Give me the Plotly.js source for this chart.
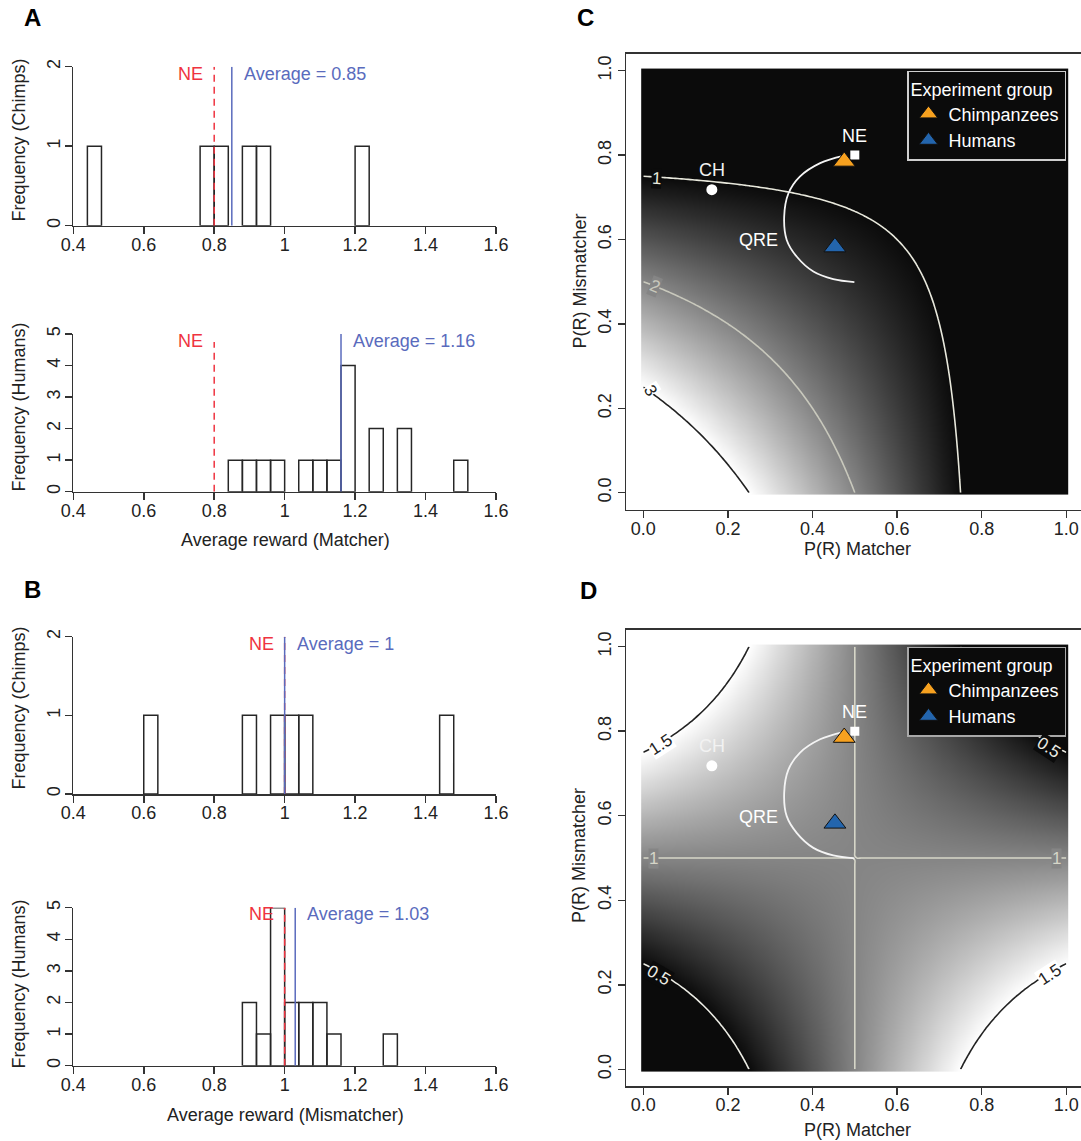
<!DOCTYPE html>
<html>
<head>
<meta charset="utf-8">
<script src="https://cdn.plot.ly/plotly-3.0.1.min.js"></script>
<style>
  html, body { margin: 0; padding: 0; background: #fff; }
  #chart { width: 1081px; height: 1141px; }
</style>
</head>
<body>
<div id="chart"></div>
<script>
// ---- Histograms of average reward per player (bin centres, bin width 0.04) ----
const binWidth = 0.04;
const matcherChimpBins = [0.46, 0.78, 0.82, 0.90, 0.94, 1.22];
const matcherChimpCounts = [1, 1, 1, 1, 1, 1];
const matcherHumanBins = [0.86, 0.90, 0.94, 0.98, 1.06, 1.10, 1.14, 1.18, 1.26, 1.34, 1.50];
const matcherHumanCounts = [1, 1, 1, 1, 1, 1, 1, 4, 2, 2, 1];
const mismatcherChimpBins = [0.62, 0.90, 0.98, 1.02, 1.06, 1.46];
const mismatcherChimpCounts = [1, 1, 1, 1, 1, 1];
const mismatcherHumanBins = [0.90, 0.94, 0.98, 1.02, 1.06, 1.10, 1.14, 1.30];
const mismatcherHumanCounts = [2, 1, 5, 2, 2, 2, 1, 1];

// group averages [chimps, humans] and the Nash-equilibrium reward
const avgMatcher = [0.85, 1.16];
const avgMismatcher = [1, 1.03];
const neRewardMatcher = 0.8;
const neRewardMismatcher = 1;

// ---- Payoff matrices: rows = Matcher (L, R), columns = Mismatcher (L, R) ----
const matcherPayoff = [[4, 0], [0, 1]];
const mismatcherPayoff = [[0, 2], [2, 0]];
const matcherLevels = [1, 2, 3];
const mismatcherLevels = [0.5, 1, 1.5];

// ---- Observed choice rates and model predictions ----
const groups = ['Chimpanzees', 'Humans'];
const groupColors = ['#f7a11f', '#2365ad'];
const groupPMatcher = [0.475, 0.453];
const groupPMismatcher = [0.785, 0.582];
const nePoint = [0.5, 0.8];
const chPoint = [0.162, 0.718];
const qreMatcher = [0.499, 0.449, 0.402, 0.363, 0.339, 0.333, 0.343, 0.370, 0.418, 0.473];
const qreMismatcher = [0.499, 0.506, 0.524, 0.559, 0.599, 0.654, 0.709, 0.749, 0.781, 0.798];

// ---- page geometry helpers (pixels -> paper) ----
const W = 1081, H = 1141;
const px = v => v / W;
const py = v => 1 - v / H;
const FONT = 'Liberation Sans, Arial, Helvetica, sans-serif';
const INK = '#222';
const NE_RED = '#ef3340';
const AVG_BLUE = '#5a6bbd';

const traces = [];
const shapes = [];
const annotations = [];
const layout = {
  width: W, height: H,
  margin: {l: 0, r: 0, t: 0, b: 0},
  paper_bgcolor: '#fff', plot_bgcolor: 'rgba(0,0,0,0)',
  font: {family: FONT, size: 18, color: INK},
  showlegend: true,
  bargap: 0
};

// text placed in page pixels, centred on (x, y)
function pageText(text, x, y, angle) {
  annotations.push({xref: 'paper', yref: 'paper', x: px(x), y: py(y), xanchor: 'center', yanchor: 'middle',
    text: text, textangle: angle || 0, showarrow: false, font: {size: 18, color: INK}});
}

const histPanels = [
  {bins: matcherChimpBins, counts: matcherChimpCounts, avg: avgMatcher[0], ne: neRewardMatcher,
   ymax: 2, top: 66.7, bottom: 225.7, neTop: 2, textY: 1.91, ylabel: 'Frequency (Chimps)', ylabY: 140},
  {bins: matcherHumanBins, counts: matcherHumanCounts, avg: avgMatcher[1], ne: neRewardMatcher,
   ymax: 5, top: 334, bottom: 491.7, neTop: 4.75, textY: 4.77, ylabel: 'Frequency (Humans)', ylabY: 407},
  {bins: mismatcherChimpBins, counts: mismatcherChimpCounts, avg: avgMismatcher[0], ne: neRewardMismatcher,
   ymax: 2, top: 636.7, bottom: 794, neTop: 2, textY: 1.91, ylabel: 'Frequency (Chimps)', ylabY: 708},
  {bins: mismatcherHumanBins, counts: mismatcherHumanCounts, avg: avgMismatcher[1], ne: neRewardMismatcher,
   ymax: 5, top: 907.7, bottom: 1065.7, neTop: 5, textY: 4.79, ylabel: 'Frequency (Humans)', ylabY: 984}
];

const axisCommon = {
  showline: true, linecolor: '#333', linewidth: 1.5,
  ticks: 'outside', ticklen: 7, tickwidth: 1.5, tickcolor: '#333',
  showgrid: false, zeroline: false, fixedrange: true,
  tickfont: {family: FONT, size: 18, color: INK}
};

histPanels.forEach((p, i) => {
  const k = i === 0 ? '' : String(i + 1);
  const xa = 'x' + k, ya = 'y' + k;
  layout['xaxis' + k] = Object.assign({}, axisCommon, {
    domain: [px(73.3), px(496)], range: [0.4, 1.6], tick0: 0.4, dtick: 0.2, anchor: ya,
    ticklabelstandoff: -5
  });
  layout['yaxis' + k] = Object.assign({}, axisCommon, {
    domain: [py(p.bottom), py(p.top)], range: [0, p.ymax], dtick: 1, tickangle: -90, anchor: xa,
    ticklabelstandoff: -2
  });
  traces.push({
    type: 'bar', x: p.bins, y: p.counts, width: binWidth, xaxis: xa, yaxis: ya,
    marker: {color: 'rgba(255,255,255,0)', line: {color: '#262626', width: 1.5}},
    showlegend: false, hoverinfo: 'skip'
  });
  shapes.push({type: 'line', xref: xa, yref: ya, x0: p.ne, x1: p.ne, y0: 0, y1: p.neTop,
    line: {color: NE_RED, width: 1.5, dash: '7px,5px'}, layer: 'above'});
  shapes.push({type: 'line', xref: xa, yref: ya, x0: p.avg, x1: p.avg, y0: 0, y1: p.ymax,
    line: {color: AVG_BLUE, width: 1.5}, layer: 'above'});
  annotations.push({xref: xa, yref: ya, x: p.ne, y: p.textY, text: 'NE', showarrow: false,
    xanchor: 'right', yanchor: 'middle', xshift: -9, font: {size: 18, color: NE_RED}});
  annotations.push({xref: xa, yref: ya, x: p.avg, y: p.textY, text: 'Average = ' + p.avg, showarrow: false,
    xanchor: 'left', yanchor: 'middle', xshift: 10, font: {size: 18, color: AVG_BLUE}});
  pageText(p.ylabel, 18.5, p.ylabY, -90);
});
pageText('Average reward (Matcher)', 285, 540);
pageText('Average reward (Mismatcher)', 285, 1115);

// ---- Expected-reward surfaces ----
function expectedReward(pm, pmm, payoff) {
  return (1 - pm) * (1 - pmm) * payoff[0][0] + (1 - pm) * pmm * payoff[0][1]
       + pm * (1 - pmm) * payoff[1][0] + pm * pmm * payoff[1][1];
}
function grid(n) { return Array.from({length: n}, (_, i) => i / (n - 1)); }
function surface(g, payoff) { return g.map(q => g.map(p => expectedReward(p, q, payoff))); }

const imgGrid = grid(101);
const lineGrid = grid(100);

function grayAt(v, zmin, zmax) {
  const t = Math.max(0, Math.min(1, (v - zmin) / (zmax - zmin)));
  const c = Math.round(11 + t * (255 - 11));
  return 'rgb(' + c + ',' + c + ',' + c + ')';
}

const mapPanels = [
  {k: '5', payoff: matcherPayoff, levels: matcherLevels, zmin: 1, zmax: 3,
   top: 53.8, bottom: 509.6, legend: 'legend', ylabY: 281.5, xlabY: 549,
   lineColors: ['#e8e8dc', '#c8c8bc', '#222'],
   labels: [[1, 0.032, 0.745, 3], [2, 0.027, 0.488, 22], [3, 0.017, 0.243, 58]]},
  {k: '6', payoff: mismatcherPayoff, levels: mismatcherLevels, zmin: 0.5, zmax: 1.5,
   top: 629.8, bottom: 1086.2, legend: 'legend2', ylabY: 856, xlabY: 1130,
   lineColors: ['#ececE4', '#d6d6c8', '#222'],
   labels: [[1.5, 0.042, 0.768, -33], [0.5, 0.958, 0.762, 33], [1, 0.024, 0.499, 0], [1, 0.976, 0.499, 0],
            [0.5, 0.037, 0.222, 30], [1.5, 0.962, 0.224, -33]]}
];

mapPanels.forEach(m => {
  const xa = 'x' + m.k, ya = 'y' + m.k;
  layout['xaxis' + m.k] = Object.assign({}, axisCommon, {
    domain: [px(626.4), 1], range: [-0.04, (W - 643.3) / 423], anchor: ya,
    tickvals: [0, 0.2, 0.4, 0.6, 0.8, 1], tickformat: '.1f', mirror: true, ticklabelstandoff: -5
  });
  layout['yaxis' + m.k] = Object.assign({}, axisCommon, {
    domain: [py(m.bottom), py(m.top)], range: [-0.04, 1.04], anchor: xa,
    tickvals: [0, 0.2, 0.4, 0.6, 0.8, 1], tickformat: '.1f', tickangle: -90
  });
  traces.push({
    type: 'heatmap', x: imgGrid, y: imgGrid, z: surface(imgGrid, m.payoff), xaxis: xa, yaxis: ya,
    zmin: m.zmin, zmax: m.zmax, zsmooth: 'best', showscale: false, hoverinfo: 'skip',
    colorscale: [[0, 'rgb(11,11,11)'], [1, 'rgb(255,255,255)']]
  });
  const zLines = surface(lineGrid, m.payoff);
  m.levels.forEach((lv, j) => {
    traces.push({
      type: 'contour', x: lineGrid, y: lineGrid, z: zLines, xaxis: xa, yaxis: ya,
      autocontour: false, contours: {start: lv, end: lv, size: 1, coloring: 'none', showlabels: false},
      line: {color: m.lineColors[j], width: 1.6, smoothing: 1}, showscale: false, showlegend: false,
      hoverinfo: 'skip'
    });
  });
  m.labels.forEach(([lv, x, y, ang]) => {
    const j = m.levels.indexOf(lv);
    annotations.push({xref: xa, yref: ya, x: x, y: y, xanchor: 'center', yanchor: 'middle',
      text: String(lv), textangle: ang, showarrow: false,
      bgcolor: grayAt(lv, m.zmin, m.zmax), borderpad: 0,
      font: {size: 17, color: m.lineColors[j]}});
  });
  traces.push({
    type: 'scatter', mode: 'lines', x: qreMatcher, y: qreMismatcher, xaxis: xa, yaxis: ya,
    line: {color: '#f4f4f4', width: 1.8, shape: 'spline'}, showlegend: false, hoverinfo: 'skip'
  });
  traces.push({
    type: 'scatter', mode: 'markers', x: [chPoint[0]], y: [chPoint[1]], xaxis: xa, yaxis: ya,
    marker: {symbol: 'circle', size: 11, color: '#ffffff'}, showlegend: false, hoverinfo: 'skip'
  });
  traces.push({
    type: 'scatter', mode: 'markers', x: [nePoint[0]], y: [nePoint[1]], xaxis: xa, yaxis: ya,
    marker: {symbol: 'square', size: 9, color: '#ffffff'}, showlegend: false, hoverinfo: 'skip'
  });
  groups.forEach((g, gi) => {
    traces.push({
      type: 'scatter', mode: 'markers', name: g, x: [groupPMatcher[gi]], y: [groupPMismatcher[gi]],
      xaxis: xa, yaxis: ya, legend: m.legend,
      marker: {symbol: 'triangle-up', size: 19, color: groupColors[gi], line: {color: '#111', width: 1}}
    });
  });
  // point labels
  const ptLabel = (t, x, y, c) => annotations.push({xref: xa, yref: ya, x: x, y: y, xanchor: 'center',
    yanchor: 'middle', text: t, showarrow: false, font: {size: 18, color: c}});
  ptLabel('NE', nePoint[0], nePoint[1] + 0.045, '#fff');
  ptLabel('CH', chPoint[0], chPoint[1] + 0.047, '#f2f2f2');
  ptLabel('QRE', 0.272, 0.598, '#fff');
  // axis titles
  pageText('P(R) Mismatcher', 579, m.ylabY, -90);
  pageText('P(R) Matcher', 857, m.xlabY);
  layout[m.legend] = {
    x: px(1066), xanchor: 'right', y: py(m.top + 17), yanchor: 'top',
    bgcolor: '#0b0b0b', bordercolor: m.k === '5' ? '#cfcfcf' : '#a8a8a8', borderwidth: 1.5,
    font: {family: FONT, size: 18, color: '#fff'},
    title: {text: 'Experiment group', font: {family: FONT, size: 18, color: '#fff'}},
    tracegroupgap: 0, itemsizing: 'trace'
  };
});

// panel letters
[['A', 21.5, 18], ['B', 21.5, 589], ['C', 575, 17.5], ['D', 578, 590]].forEach(([t, x, y]) => {
  annotations.push({xref: 'paper', yref: 'paper', x: px(x), y: py(y), xanchor: 'left', yanchor: 'middle',
    text: t, showarrow: false, font: {size: 24, color: '#000', weight: 'bold'}});
});

layout.shapes = shapes;
layout.annotations = annotations;

Plotly.newPlot('chart', traces, layout, {displayModeBar: false, staticPlot: true});
</script>
</body>
</html>
